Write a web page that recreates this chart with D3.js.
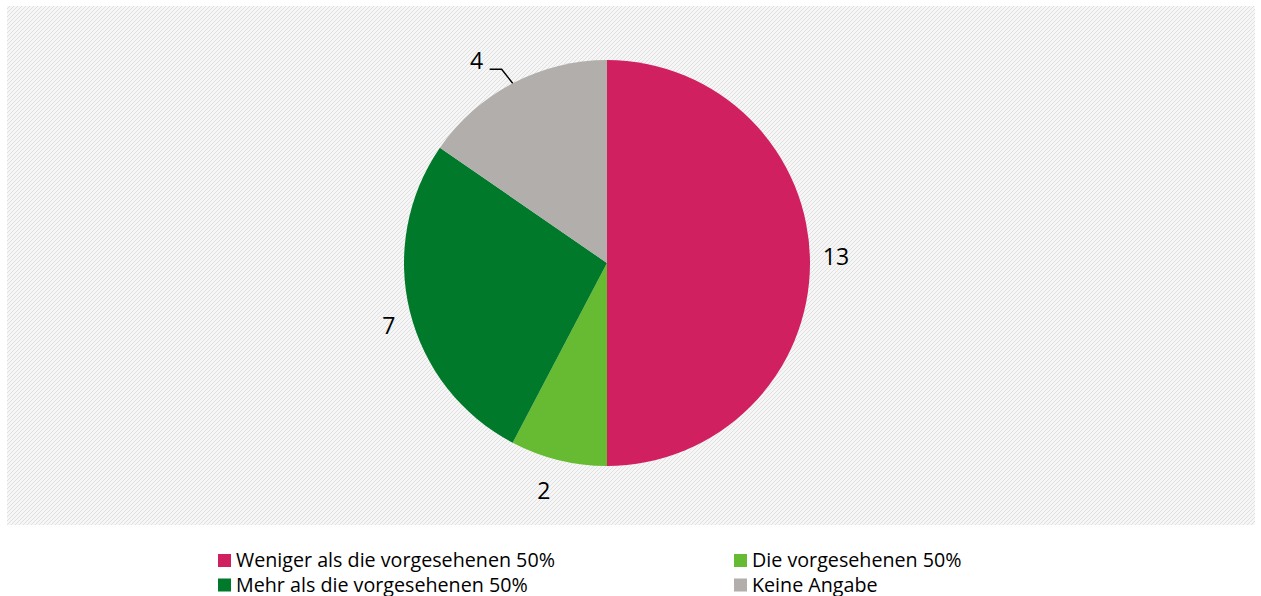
<!DOCTYPE html>
<html><head><meta charset="utf-8">
<script src="https://cdn.jsdelivr.net/npm/d3@7"></script>
<style>
html,body{margin:0;padding:0;background:#fff;}
svg{display:block;font-family:"Open Sans",sans-serif;}
</style></head>
<body>
<svg id="c" width="1261" height="596"></svg>
<script>
const categories = ["Weniger als die vorgesehenen 50%", "Die vorgesehenen 50%", "Mehr als die vorgesehenen 50%", "Keine Angabe"];
const values = [13, 2, 7, 4];
const colors = ["#D02060", "#66BB33", "#00792A", "#B1AEAB"];

const svg = d3.select("#c");
const defs = svg.append("defs");
const pat = defs.append("pattern").attr("id","hatch").attr("patternUnits","userSpaceOnUse")
  .attr("width",4).attr("height",4);
pat.append("rect").attr("width",4).attr("height",4).attr("fill","#f6f6f6");
pat.append("path").attr("d","M-1,1 l2,-2 M0,4 l4,-4 M3,5 l2,-2").attr("stroke","#e0e0e0").attr("stroke-width",1);

svg.append("rect").attr("x",7).attr("y",6).attr("width",1248).attr("height",519).attr("fill","url(#hatch)");

const cx = 607, cy = 263, r = 203;
const pie = d3.pie().sort(null).value(d => d)(values);
const arc = d3.arc().innerRadius(0).outerRadius(r);
const g = svg.append("g").attr("transform",`translate(${cx},${cy})`);
g.selectAll("path").data(pie).join("path").attr("d",arc).attr("fill",(d,i)=>colors[i]);

// labels
const labelArc = d3.arc().innerRadius(r+28).outerRadius(r+28);
const nudge = [[-2,-6],[-8,3],[6,7],[0,0]];
const lg = svg.append("g").attr("transform",`translate(${cx},${cy})`);
pie.forEach((d,i)=>{
  let [x,y] = labelArc.centroid(d);
  if (i===3) {
    const mid = (d.startAngle+d.endAngle)/2;
    const p0 = [Math.sin(mid)*r, -Math.cos(mid)*r];
    const elbow = [p0[0]-11, p0[1]-14];
    const end = [elbow[0]-12, elbow[1]];
    lg.append("path").attr("d",`M${p0[0]},${p0[1]} L${elbow[0]},${elbow[1]} L${end[0]},${end[1]}`)
      .attr("fill","none").attr("stroke","#000").attr("stroke-width",1.4);
    x = end[0]-13; y = end[1]-9;
  }
  lg.append("text").attr("x",x+nudge[i][0]).attr("y",y+nudge[i][1]).attr("dy","0.36em")
    .attr("text-anchor","middle").attr("font-size",23).attr("fill","#000").text(values[i]);
});

// legend
const legend = svg.append("g");
const pos = [[218,560.5],[734,560.5],[218,585],[734,585]];
categories.forEach((c,i)=>{
  const [x,y] = pos[i];
  legend.append("rect").attr("x",x).attr("y",y-6.5).attr("width",13).attr("height",13).attr("fill",colors[i]);
  legend.append("text").attr("x",x+18).attr("y",y+6.5).attr("font-size",19.7).attr("fill","#000").text(c);
});
</script>
</body></html>
